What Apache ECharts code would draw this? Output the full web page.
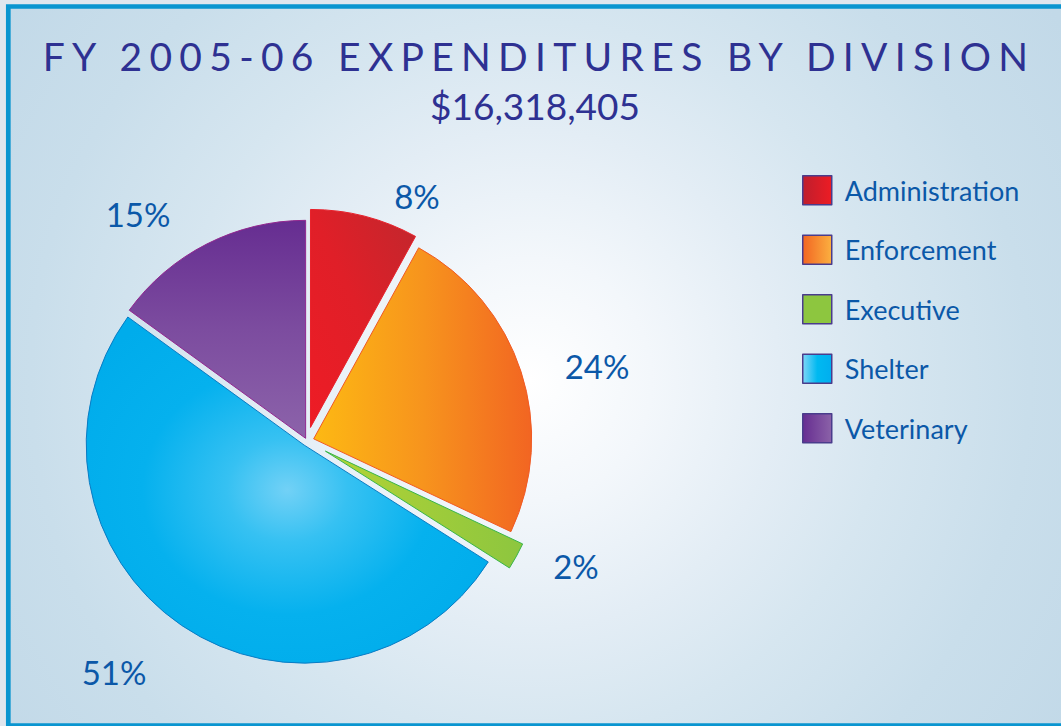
<!DOCTYPE html>
<html>
<head>
<meta charset="utf-8">
<script src="https://cdn.jsdelivr.net/npm/echarts@6/dist/echarts.min.js"></script>
<style>
  html, body { margin: 0; padding: 0; background: #dfe6ee; }
  #chart { width: 1061px; height: 726px; }
  /* wide tracking of the main title (SVG renderer text) */
  #chart text[style*="39px"] { letter-spacing: 7.3px; }
</style>
</head>
<body>
<div id="chart"></div>
<script>
// ---- data ----
const titleText = 'FY 2005-06 EXPENDITURES BY DIVISION';
const subtitleText = '$16,318,405';
const categories = ['Administration', 'Enforcement', 'Executive', 'Shelter', 'Veterinary'];
const values = [8, 24, 2, 51, 15];

// ---- styling ----
const textBlue = '#0b58a8';
const titleColor = '#2e3192';
const lin = (x, y, x2, y2, stops) => ({ type: 'linear', x, y, x2, y2,
  colorStops: stops.map((c, i) => ({ offset: i / (stops.length - 1), color: c })) });

const sliceStyle = {
  Administration: { color: lin(0, 1, 1, 0, ['#ee1c25', '#e01f28', '#c1272d']), borderColor: '#e8202a', borderWidth: 1 },
  Enforcement: { color: lin(0, 0, 1, 0, ['#fdb913', '#f7941d', '#f26522']), borderColor: '#f15a24', borderWidth: 1 },
  Executive: { color: lin(0, 0, 1, 0, ['#b3d335', '#8dc63f']), borderColor: '#39b54a', borderWidth: 1 },
  Shelter: { color: { type: 'radial', x: 0.5, y: 0.5, r: 0.6,
      colorStops: [{ offset: 0, color: '#72d1f6' }, { offset: 0.25, color: '#36c1f2' },
                   { offset: 0.6, color: '#05b1ee' }, { offset: 1, color: '#00aceb' }] },
    borderColor: '#0a7cc4', borderWidth: 1 },
  Veterinary: { color: lin(0, 0, 0, 1, ['#662d91', '#7c4c9f', '#8c63aa']), borderColor: '#92278f', borderWidth: 1 }
};
const legendStyle = {
  Administration: lin(0, 0, 1, 0, ['#be1e2d', '#ed1c24']),
  Enforcement: lin(0, 0, 1, 0, ['#f26522', '#fbb040']),
  Executive: lin(0, 0, 1, 0, ['#8dc63f', '#8dc63f']),
  Shelter: lin(0, 0, 1, 0, ['#7fd6f7', '#00b9f1', '#00aeef']),
  Veterinary: lin(0, 0, 1, 0, ['#662d91', '#8b62a8'])
};
const sliceOffset = { Administration: 14, Enforcement: 7, Executive: 21, Shelter: 5, Veterinary: 3 };
const labelAt = { Administration: [417, 196], Enforcement: [597, 366], Executive: [576, 566],
                  Shelter: [114, 672], Veterinary: [138, 214] };

const total = values.reduce((a, b) => a + b, 0);
const hidden = (name, value) => ({ name, value, itemStyle: { color: 'rgba(0,0,0,0)', borderWidth: 0 } });

let cum = 0;
const series = categories.map((name, i) => {
  const before = cum;
  cum += values[i];
  const after = total - cum;
  const data = [];
  if (before > 0) data.push(hidden('_before' + i, before));
  data.push({ name, value: values[i], selected: true, itemStyle: sliceStyle[name] });
  if (after > 0) data.push(hidden('_after' + i, after));
  return {
    type: 'pie', center: [307, 441], radius: 218, startAngle: 90, clockwise: true,
    selectedMode: 'multiple', selectedOffset: sliceOffset[name],
    silent: true, animation: false,
    emphasis: { disabled: true },
    label: { show: false }, labelLine: { show: false },
    data
  };
});

// percentage labels, text taken from the values
const pctLabels = categories.map((name, i) => ({
  type: 'text', silent: true, z: 50, x: labelAt[name][0], y: labelAt[name][1],
  style: { text: values[i] + '%', fill: textBlue, fontSize: 33, fontFamily: 'Lato',
           align: 'center', verticalAlign: 'middle' }
}));

const chart = echarts.init(document.getElementById('chart'), null, { renderer: 'svg' });
chart.setOption({
  animation: false,
  graphic: [
    { type: 'rect', z: -20, silent: true, shape: { x: 0, y: 0, width: 1061, height: 726 },
      style: { fill: '#dfe6ee' } },
    { type: 'rect', z: -19, silent: true, shape: { x: 8.3, y: 6.5, width: 1100, height: 719 },
      style: { fill: { type: 'radial', x: 530, y: 380, r: 640, global: true,
        colorStops: [{ offset: 0, color: '#ffffff' }, { offset: 0.19, color: '#f3f7fb' },
                     { offset: 0.39, color: '#e3edf5' }, { offset: 0.56, color: '#d6e6f0' },
                     { offset: 0.78, color: '#c9deeb' }, { offset: 1, color: '#c2d9e8' }] },
        stroke: '#0a95d0', lineWidth: 4.7 } }
  ].concat(pctLabels),
  title: [
    { text: titleText, left: 534, top: 31, textAlign: 'center',
      textStyle: { fontSize: 39, fontWeight: 'normal', color: titleColor, fontFamily: 'Lato' } },
    { text: subtitleText, left: 530, top: 82, textAlign: 'center',
      textStyle: { fontSize: 37, fontWeight: 'normal', color: titleColor, fontFamily: 'Lato' } }
  ],
  legend: {
    orient: 'vertical', left: 797, top: 170, itemWidth: 29, itemHeight: 29, itemGap: 29,
    icon: 'rect', selectedMode: false,
    itemStyle: { borderColor: '#4a3c8c', borderWidth: 1.5 },
    textStyle: { fontSize: 27, color: textBlue, fontFamily: 'Lato', padding: [0, 0, 0, 8] },
    data: categories.map(n => ({ name: n, itemStyle: { color: legendStyle[n], borderColor: '#4a3c8c', borderWidth: 1.5 } }))
  },
  series
});
</script>
</body>
</html>
